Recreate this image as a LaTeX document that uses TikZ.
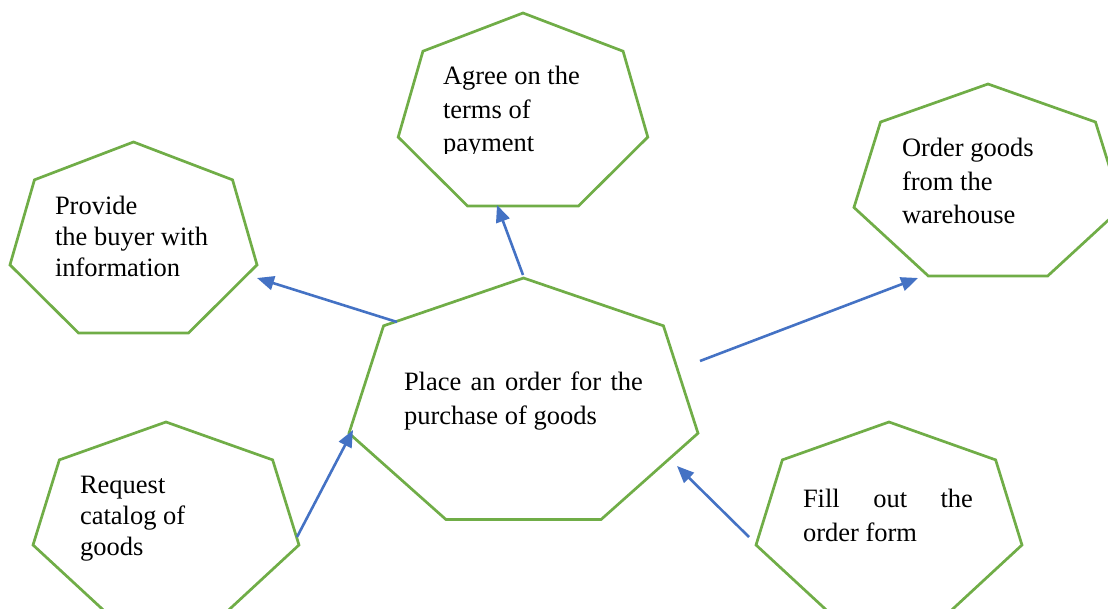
\documentclass[tikz,border=0pt]{standalone}
\usepackage{fontspec}
\setmainfont{Liberation Serif}
\usetikzlibrary{arrows.meta}
\definecolor{hgreen}{HTML}{70AD47}
\definecolor{ablue}{HTML}{4472C4}
\tikzset{
  hep/.style={draw=hgreen,line width=2.7pt,line join=miter},
  arr/.style={draw=ablue,line width=2.6pt,-{Triangle[length=17pt,width=14pt]}},
  lbl/.style={anchor=base west,inner sep=0pt,outer sep=0pt}
}
\newcommand\heptagon[4]{%
  \draw[hep,shift={(#1,#2)}] (-90:#3 and #4)
    \foreach \k in {1,...,6}{ -- ({-90+\k*360/7}:#3 and #4)} -- cycle;}
\newcommand\txtlines[3]{\parbox[t]{#1}{\fontsize{26.5}{#2}\selectfont #3}}
\begin{document}
\begin{tikzpicture}[x=1pt,y=-1pt]
\useasboundingbox (0,0) rectangle (1108,609);
\begin{scope}
  \clip (0,0) rectangle (1108,609);
  \heptagon{523.5}{405}{179}{127}
  \heptagon{133.5}{242.5}{126.7}{100.5}
  \heptagon{523}{114.5}{128}{101.5}
  \heptagon{988}{185}{137.5}{101}
  \heptagon{166}{522.6}{136.4}{100.6}
  \heptagon{889}{522.6}{136.4}{100.6}
\end{scope}
% labels
\node[lbl] (tcenter) at (404,391) {\txtlines{260pt}{33}{\makebox[239pt][s]{Place an order for the}\\purchase of goods}};
\node[lbl] (tprov) at (55,215) {\txtlines{220pt}{31}{Provide\\the buyer with\\information}};
\begin{scope}
  \clip (380,0) rectangle (680,154);
  \node[lbl] (tagree) at (443,85) {\txtlines{220pt}{33.5}{Agree on the\\terms of\\payment}};
\end{scope}
\node[lbl] (torder) at (902,157) {\txtlines{220pt}{33.5}{Order goods\\from the\\warehouse}};
\node[lbl] (treq) at (80,493) {\txtlines{220pt}{31}{Request\\catalog of\\goods}};
\node[lbl] (tfill) at (803,507) {\txtlines{220pt}{34}{\makebox[170pt][s]{Fill out the}\\order form}};
% arrow ends
\coordinate (a1s) at (397,322); \coordinate (a1e) at (257,278);
\coordinate (a2s) at (523,275); \coordinate (a2e) at (497,205);
\coordinate (a3s) at (700,361); \coordinate (a3e) at (918,278);
\coordinate (a4s) at (297,537); \coordinate (a4e) at (353,430);
\coordinate (a5s) at (749,537); \coordinate (a5e) at (677,466);
\draw[arr] (a1s) -- (a1e);
\draw[arr] (a2s) -- (a2e);
\draw[arr] (a3s) -- (a3e);
\draw[arr] (a4s) -- (a4e);
\draw[arr] (a5s) -- (a5e);
\end{tikzpicture}
\end{document}
